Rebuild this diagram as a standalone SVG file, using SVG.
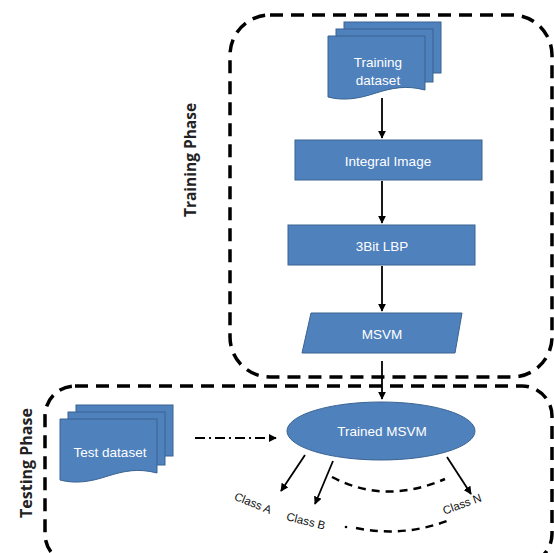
<svg xmlns="http://www.w3.org/2000/svg" width="554" height="553" viewBox="0 0 554 553">
<style>
.box{fill:#4f81bd;stroke:#3a6391;stroke-width:1}
.lbl{font-family:"Liberation Sans",Arial,sans-serif;font-size:13.5px;fill:#ffffff;text-anchor:middle;dominant-baseline:central}
.phase{font-family:"Open Sans","Liberation Sans",sans-serif;font-weight:bold;fill:#222;text-anchor:middle;dominant-baseline:central}
.cls{font-family:"Liberation Sans",Arial,sans-serif;font-size:11.5px;fill:#111;text-anchor:middle;dominant-baseline:central}
.frame{fill:none;stroke:#000;stroke-width:3.5;stroke-dasharray:13 8}
.arr{stroke:#000;stroke-width:1.8;fill:none;marker-end:url(#ah)}
.dots{fill:none;stroke:#000;stroke-width:2.5;stroke-dasharray:8 6}
</style>
<defs>
<marker id="ah" viewBox="0 0 10 10" refX="9" refY="5" markerWidth="4.5" markerHeight="4.5" orient="auto" markerUnits="strokeWidth">
<path d="M0,0 L10,5 L0,10 z" fill="#000"/>
</marker>
<g id="docstack">
<rect class="box" x="16" y="-14" width="97" height="51"/>
<rect class="box" x="8" y="-7" width="97" height="53"/>
<path class="box" d="M0,0 H97 V54 C78,49 64,52 48,57 C30,63 15,65 0,61 Z"/>
</g>
</defs>
<rect width="554" height="553" fill="#ffffff"/>
<g id="frames">
<rect id="training-frame" class="frame" x="230" y="15" width="322" height="362" rx="40"/>
<rect id="testing-frame" class="frame" x="45" y="386" width="507" height="178" rx="30"/>
</g>
<g id="phase-labels">
<text class="phase" font-size="15.5" transform="translate(190,160) rotate(-90)">Training Phase</text>
<text class="phase" font-size="16" transform="translate(26,463) rotate(-90)">Testing Phase</text>
</g>
<g id="connectors">
<line class="arr" x1="382" y1="98" x2="382" y2="138"/>
<line class="arr" x1="382" y1="181" x2="382" y2="223"/>
<line class="arr" x1="382" y1="266" x2="382" y2="311"/>
<line class="arr" x1="382" y1="361" x2="382" y2="399"/>
<line x1="195" y1="438" x2="276" y2="438" stroke="#000" stroke-width="1.8" stroke-dasharray="10 4 2 4" marker-end="url(#ah)"/>
<line class="arr" x1="305" y1="455" x2="281" y2="491"/>
<line class="arr" x1="333" y1="461" x2="315" y2="504"/>
<line class="arr" x1="447" y1="457" x2="471" y2="494"/>
<path class="dots" d="M332,477 Q385,505 445,479"/>
<circle cx="346" cy="527" r="1.3" fill="#000"/>
<path class="dots" d="M356,528 Q405,538 452,519"/>
</g>
<g id="training-dataset">
<use href="#docstack" x="328" y="36"/>
<text class="lbl" x="378" y="62">Training</text>
<text class="lbl" x="378" y="80">dataset</text>
</g>
<g id="integral-image">
<rect class="box" x="295" y="140" width="187" height="40"/>
<text class="lbl" x="388" y="161">Integral Image</text>
</g>
<g id="lbp">
<rect class="box" x="288" y="225" width="187" height="40"/>
<text class="lbl" x="382" y="246">3Bit LBP</text>
</g>
<g id="msvm">
<polygon class="box" points="311,313 462,313 455,353 302,353"/>
<text class="lbl" x="382" y="334">MSVM</text>
</g>
<g id="test-dataset">
<use href="#docstack" x="60" y="419"/>
<text class="lbl" x="110" y="452">Test dataset</text>
</g>
<g id="trained-msvm">
<ellipse class="box" cx="381" cy="431" rx="94" ry="29"/>
<text class="lbl" x="382" y="431">Trained MSVM</text>
</g>
<g id="classes">
<text class="cls" transform="translate(253,503) rotate(22)">Class A</text>
<text class="cls" transform="translate(306,521) rotate(14)">Class B</text>
<text class="cls" transform="translate(462,504) rotate(-20)">Class N</text>
</g>
</svg>
